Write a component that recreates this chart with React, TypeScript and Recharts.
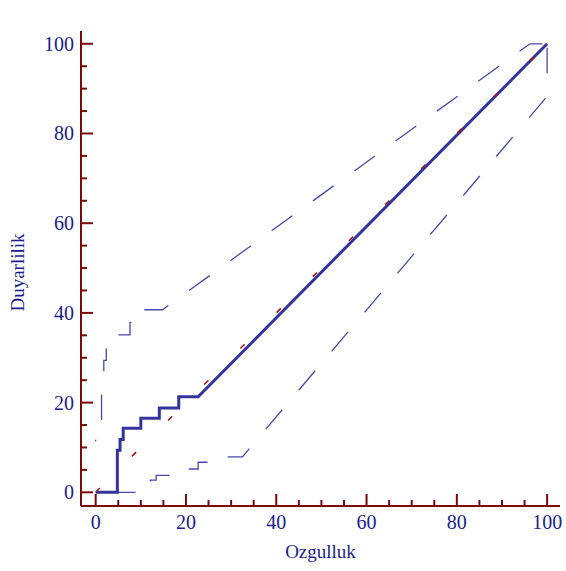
import React from "react";
import { LineChart, Line, XAxis, YAxis } from "recharts";

// ROC curve (Ozgulluk on x, Duyarlilik on y)
const rocX = [0, 4.8, 4.8, 5.4, 5.4, 6.1, 6.1, 10, 10, 14.1, 14.1, 18.4, 18.4, 22.7, 100];
const rocY = [0, 0, 9.4, 9.4, 11.8, 11.8, 14.3, 14.3, 16.5, 16.5, 18.8, 18.8, 21.3, 21.3, 100];

// upper confidence band
const upX = [0, 0, 1.3, 1.3, 1.8, 1.8, 2.35, 2.35, 7.6, 7.6, 9.5, 9.5, 14.8, 96.2, 100];
const upY = [11.4, 13, 13, 25, 25, 29.4, 29.4, 35.1, 35.1, 37.9, 37.9, 40.7, 40.7, 100, 100];

// lower confidence band
const loX = [0, 12.1, 12.1, 13.4, 13.4, 19, 19, 22.7, 22.7, 28, 28, 32.5, 100, 100];
const loY = [0, 0, 2.7, 2.7, 3.8, 3.8, 5.2, 5.2, 6.7, 6.7, 7.9, 7.9, 88.3, 100];

// chance diagonal
const diagX = [0, 100];
const diagY = [0, 100];

const axisTicks = [0, 5, 10, 15, 20, 25, 30, 35, 40, 45, 50, 55, 60, 65, 70, 75, 80, 85, 90, 95, 100];

const toPoints = (xs: number[], ys: number[]) => xs.map((x, i) => ({ x, y: ys[i] }));

const FRAME = "#7a0a0a";
const TEXT = "#1c1c8c";
const FONT = '"Liberation Serif", "Times New Roman", serif';

function XTick({ x, y, payload }: any) {
    const major = payload.value % 20 === 0;
    return (
        <g>
            <line x1={x} x2={x} y1={y} y2={y - (major ? 12 : 6)} stroke={FRAME} strokeWidth={2} />
            {major && (
                <text x={x} y={y + 23} textAnchor="middle" fill={TEXT} fontSize={20} fontFamily={FONT}>
                    {payload.value}
                </text>
            )}
        </g>
    );
}

function YTick({ x, y, payload }: any) {
    const major = payload.value % 20 === 0;
    return (
        <g>
            <line x1={x} x2={x + (major ? 12 : 6)} y1={y} y2={y} stroke={FRAME} strokeWidth={2} />
            {major && (
                <text x={x - 7} y={y + 7} textAnchor="end" fill={TEXT} fontSize={20} fontFamily={FONT}>
                    {payload.value}
                </text>
            )}
        </g>
    );
}

export default function App() {
    return (
        <div style={{ position: "absolute", left: 0, top: 0 }}>
            <LineChart width={566} height={571} margin={{ top: 31, right: 6, bottom: 0, left: 0 }}>
                <XAxis
                    dataKey="x"
                    type="number"
                    domain={[-3.25, 102.85]}
                    allowDataOverflow
                    ticks={axisTicks}
                    interval={0}
                    tickSize={0}
                    tickMargin={0}
                    tick={<XTick />}
                    axisLine={{ stroke: FRAME, strokeWidth: 2 }}
                    height={65}
                    label={(p: any) => (
                        <text
                            x={p.viewBox.x + p.viewBox.width / 2}
                            y={p.viewBox.y + 52}
                            textAnchor="middle"
                            fill={TEXT}
                            fontSize={19}
                            fontFamily={FONT}
                        >
                            Ozgulluk
                        </text>
                    )}
                />
                <XAxis
                    xAxisId="top"
                    orientation="top"
                    type="number"
                    domain={[-3.25, 102.85]}
                    tick={false}
                    tickLine={false}
                    height={0}
                    axisLine={{ stroke: FRAME, strokeWidth: 2 }}
                    label={(p: any) => (
                        <text
                            x={p.viewBox.x + p.viewBox.width / 2}
                            y={p.viewBox.y + p.viewBox.height - 10}
                            textAnchor="middle"
                            fill={TEXT}
                            fontSize={19}
                            fontFamily={FONT}
                        >
                            Troponin
                        </text>
                    )}
                />
                <YAxis
                    dataKey="y"
                    type="number"
                    domain={[-3.05, 102.85]}
                    allowDataOverflow
                    ticks={axisTicks}
                    interval={0}
                    tickSize={0}
                    tickMargin={0}
                    tick={<YTick />}
                    axisLine={{ stroke: FRAME, strokeWidth: 2 }}
                    width={81}
                    label={(p: any) => {
                        const cx = 24;
                        const cy = p.viewBox.y + p.viewBox.height / 2 + 4;
                        return (
                            <text
                                x={cx}
                                y={cy}
                                transform={`rotate(-90, ${cx}, ${cy})`}
                                textAnchor="middle"
                                fill={TEXT}
                                fontSize={19}
                                fontFamily={FONT}
                            >
                                Duyarlilik
                            </text>
                        );
                    }}
                />
                <YAxis
                    yAxisId="right"
                    orientation="right"
                    type="number"
                    domain={[-3.05, 102.85]}
                    tick={false}
                    tickLine={false}
                    width={0}
                    axisLine={{ stroke: FRAME, strokeWidth: 2 }}
                />
                <Line
                    data={toPoints(upX, upY)}
                    dataKey="y"
                    type="linear"
                    stroke="#4848aa"
                    strokeWidth={1.3}
                    strokeDasharray="25.5 25.5"
                    strokeDashoffset={24}
                    dot={false}
                    isAnimationActive={false}
                />
                <Line
                    data={toPoints(loX, loY)}
                    dataKey="y"
                    type="linear"
                    stroke="#4848aa"
                    strokeWidth={1.3}
                    strokeDasharray="25.5 25.5"
                    strokeDashoffset={36.6}
                    dot={false}
                    isAnimationActive={false}
                />
                <Line
                    data={toPoints(rocX, rocY)}
                    dataKey="y"
                    type="linear"
                    stroke="#34349c"
                    strokeWidth={3}
                    dot={false}
                    isAnimationActive={false}
                />
                <Line
                    data={toPoints(diagX, diagY)}
                    dataKey="y"
                    type="linear"
                    stroke="#a01414"
                    strokeWidth={1.5}
                    strokeDasharray="6 45"
                    dot={false}
                    isAnimationActive={false}
                />
            </LineChart>
        </div>
    );
}
